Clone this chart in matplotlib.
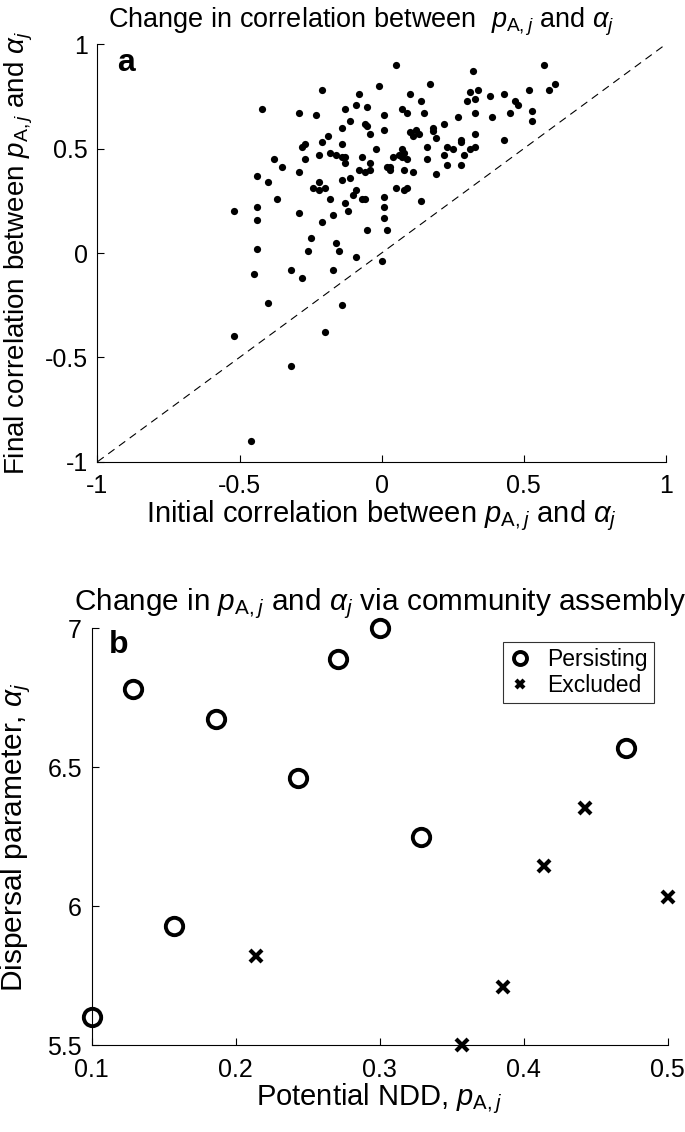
import matplotlib
matplotlib.use("Agg")
import matplotlib.pyplot as plt

plt.rcParams['font.family'] = ['Liberation Sans', 'DejaVu Sans']
plt.rcParams['mathtext.fontset'] = 'custom'
plt.rcParams['mathtext.rm'] = 'Liberation Sans'
plt.rcParams['mathtext.it'] = 'Liberation Sans:italic'
plt.rcParams['mathtext.bf'] = 'Liberation Sans:bold'

# panel a: initial vs final correlation, one point per simulated community
initial_corr = [
    -0.21, -0.08, -0.01, -0.42, -0.29, -0.23, -0.13, -0.09, -0.05, 0.01,
    -0.11, -0.14, -0.06, -0.05, -0.04, 0.01, -0.19, -0.21, -0.27, -0.28,
    -0.14, -0.02, -0.38, -0.35, -0.27, -0.22, -0.18, -0.16, -0.14, -0.13,
    -0.13, -0.07, -0.04, -0.08, -0.06, -0.04, 0.02, -0.44, -0.40, -0.29,
    -0.22, -0.24, -0.22, -0.20, -0.14, -0.11, -0.09, -0.10, -0.07, -0.06,
    0.01, -0.37, -0.18, -0.13, -0.44, -0.52, -0.29, -0.12, 0.01, -0.44,
    -0.17, -0.21, 0.01, -0.05, 0.02, -0.25, -0.16, -0.44, -0.26, -0.15,
    -0.09, 0.00, -0.32, -0.17,
    -0.45, -0.28, -0.40, -0.14, -0.52, -0.20, -0.32, -0.46,
    0.05, 0.32, 0.57, 0.17, 0.61, 0.59, 0.10, 0.14, 0.31, 0.34,
    0.33, 0.30, 0.38, 0.43, 0.47, 0.48, 0.52, 0.53, 0.53, 0.07,
    0.09, 0.15, 0.27, 0.33, 0.39, 0.45, 0.22, 0.10, 0.12, 0.11,
    0.13, 0.18, 0.18, 0.19, 0.33, 0.28, 0.28, 0.43, 0.16, 0.23,
    0.25, 0.31, 0.33, 0.22, 0.29, 0.07, 0.04, 0.06, 0.08, 0.07,
    0.09, 0.16, 0.03, 0.03, 0.08, 0.11, 0.19, 0.23, 0.28, 0.05,
    0.08, 0.09, 0.14,
]
final_corr = [
    0.78, 0.76, 0.80, 0.69, 0.67, 0.66, 0.69, 0.71, 0.70, 0.66,
    0.63, 0.60, 0.62, 0.61, 0.57, 0.59, 0.56, 0.53, 0.52, 0.51,
    0.52, 0.50, 0.45, 0.41, 0.45, 0.47, 0.48, 0.47, 0.46, 0.46,
    0.43, 0.46, 0.43, 0.40, 0.39, 0.40, 0.41, 0.37, 0.34, 0.39,
    0.34, 0.31, 0.30, 0.31, 0.35, 0.36, 0.30, 0.28, 0.26, 0.26,
    0.27, 0.26, 0.26, 0.24, 0.22, 0.20, 0.19, 0.20, 0.22, 0.16,
    0.18, 0.15, 0.17, 0.11, 0.11, 0.07, 0.05, 0.02, 0.01, 0.01,
    -0.02, -0.04, -0.08, -0.08,
    -0.10, -0.12, -0.24, -0.25, -0.40, -0.38, -0.54, -0.90,
    0.90, 0.87, 0.90, 0.81, 0.81, 0.78, 0.76, 0.73, 0.77, 0.78,
    0.74, 0.73, 0.75, 0.76, 0.73, 0.71, 0.78, 0.68, 0.63, 0.69,
    0.67, 0.67, 0.65, 0.67, 0.65, 0.67, 0.62, 0.58, 0.59, 0.56,
    0.57, 0.60, 0.585, 0.55, 0.57, 0.54, 0.53, 0.54, 0.51, 0.51,
    0.50, 0.50, 0.51, 0.47, 0.47, 0.50, 0.46, 0.47, 0.48, 0.46,
    0.45, 0.45, 0.41, 0.40, 0.40, 0.39, 0.38, 0.42, 0.42, 0.31,
    0.30, 0.31, 0.25,
]

# panel b: species after assembly
pers_pA = [0.100, 0.129, 0.157, 0.186, 0.243, 0.271, 0.300, 0.329, 0.471]
pers_alpha = [5.60, 6.78, 5.93, 6.675, 6.46, 6.89, 7.00, 6.25, 6.57]
excl_pA = [0.214, 0.357, 0.386, 0.414, 0.443, 0.500]
excl_alpha = [5.82, 5.50, 5.71, 6.145, 6.355, 6.035]

corr_ticks = [-1, -0.5, 0, 0.5, 1]
corr_labels = ['-1', '-0.5', '0', '0.5', '1']
pA_ticks = [0.1, 0.2, 0.3, 0.4, 0.5]
pA_labels = ['0.1', '0.2', '0.3', '0.4', '0.5']
alpha_ticks = [5.5, 6, 6.5, 7]
alpha_labels = ['5.5', '6', '6.5', '7']

pA = r'$p_{\mathrm{A},j}$'
al = r'$\alpha_j$'

fig = plt.figure(figsize=(6.85, 11.32), dpi=100)

# ---- panel a ----
ax1 = fig.add_axes([0.1423, 0.5921, 0.8297, 0.3688])
ax1.plot(corr_ticks[::4], corr_ticks[::4], '--', color='k', lw=0.8, dashes=(7, 5))
ax1.plot(initial_corr, final_corr, 'o', color='k', ms=5.2, mec='none', clip_on=False)
ax1.set_xlim(-1, 1)
ax1.set_ylim(-1, 1)
ax1.set_xticks(corr_ticks)
ax1.set_xticklabels(corr_labels)
ax1.set_yticks(corr_ticks)
ax1.set_yticklabels(corr_labels)
ax1.set_xlabel('Initial correlation between ' + pA + ' and ' + al, fontsize=21, labelpad=0)
ax1.set_ylabel('Final correlation between ' + pA + ' and ' + al, fontsize=20, labelpad=7)
ax1.text(0.035, 0.99, 'a', transform=ax1.transAxes, fontsize=23, fontweight='bold', va='top')
# the top title of panel a is set in a narrower face in the original
fig.text(0.158, 0.976, 'Change in correlation between  ' + pA + ' and ' + al, fontsize=19.5,
         family=['Liberation Sans Narrow', 'Liberation Sans'], va='baseline')

# ---- panel b ----
ax2 = fig.add_axes([0.1339, 0.0766, 0.8406, 0.3684])
ax2.plot(pers_pA, pers_alpha, 'o', ls='none', ms=12.5, mfc='none', mec='k', mew=2.8,
         clip_on=False, label='Persisting')
ax2.plot(excl_pA, excl_alpha, 'x', ls='none', ms=8.5, mec='k', mew=3.0,
         clip_on=False, label='Excluded')
ax2.set_xlim(0.1, 0.5)
ax2.set_ylim(5.5, 7)
ax2.set_xticks(pA_ticks)
ax2.set_xticklabels(pA_labels)
ax2.set_yticks(alpha_ticks)
ax2.set_yticklabels(alpha_labels)
ax2.set_xlabel('Potential NDD, ' + pA, fontsize=21, labelpad=0)
ax2.set_ylabel('Dispersal parameter, ' + al, fontsize=21.5, labelpad=10)
ax2.text(0.03, 0.995, 'b', transform=ax2.transAxes, fontsize=23, fontweight='bold', va='top')
ax2.set_title('Change in ' + pA + ' and ' + al + ' via community assembly', fontsize=21.4, pad=13)
leg = ax2.legend(loc='upper right', fontsize=16.5, frameon=True, fancybox=False,
                 edgecolor='k', handlelength=1.0, handletextpad=0.7,
                 borderaxespad=0.6, borderpad=0.25, labelspacing=0.15, markerscale=0.75)
leg.get_frame().set_linewidth(0.8)

for ax in (ax1, ax2):
    ax.spines['top'].set_visible(False)
    ax.spines['right'].set_visible(False)
    ax.spines['left'].set_linewidth(0.8)
    ax.spines['bottom'].set_linewidth(0.8)
    ax.tick_params(direction='in', length=5, width=0.8, labelsize=18)
    ax.tick_params(axis='x', pad=9)
    ax.tick_params(axis='y', pad=7)

fig.savefig('out.png', dpi=100)
